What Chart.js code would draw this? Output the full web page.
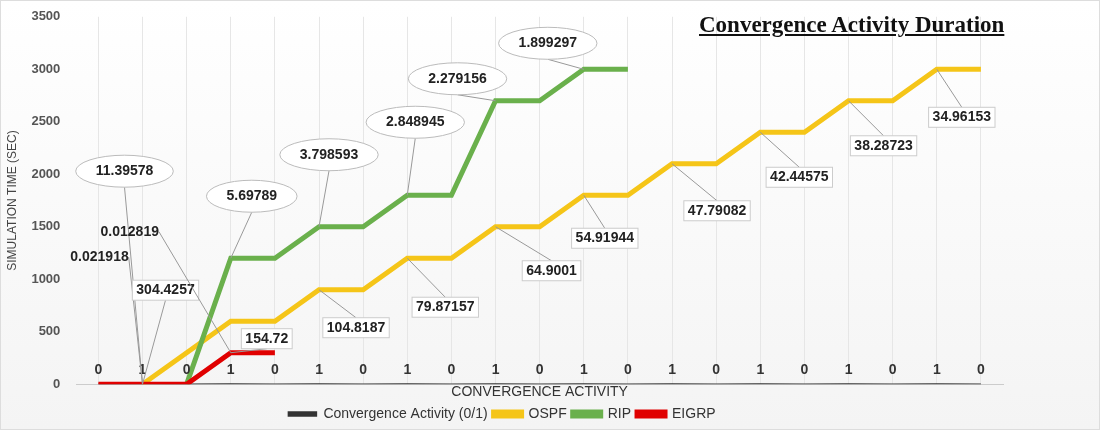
<!DOCTYPE html>
<html><head><meta charset="utf-8">
<script src="https://cdn.jsdelivr.net/npm/chart.js@4/dist/chart.umd.min.js"></script>
<style>html,body{margin:0;background:#fff}#w{position:relative;width:1100px;height:430px;box-sizing:border-box;border:1px solid #ddd;background:linear-gradient(#fff,#f4f4f4)}
#t{position:absolute;left:698px;top:11px;font:bold 23px "Liberation Serif",serif;text-decoration:underline;color:#111}</style>
</head><body><div id="w"><canvas id="c" width="1100" height="430"></canvas><div id="t">Convergence Activity Duration</div></div>
<script>
const categories = ["0","1","0","1","0","1","0","1","0","1","0","1","0","1","0","1","0","1","0","1","0"];
const activity = [0,1,0,1,0,1,0,1,0,1,0,1,0,1,0,1,0,1,0,1,0];
const ospf = [null,0,300,600,600,900,900,1200,1200,1500,1500,1800,1800,2100,2100,2400,2400,2700,2700,3000,3000];
const rip = [null,null,0,1200,1200,1500,1500,1800,1800,2700,2700,3000,3000,null,null,null,null,null,null,null,null];
const eigrp = [0,0,0,300,300,null,null,null,null,null,null,null,null,null,null,null,null,null,null,null,null];
const yTicks = [0,500,1000,1500,2000,2500,3000,3500];
// callouts: [datasetIndex, pointIndex, text, style]
const callouts = [
 [2,1,"11.39578","ellipse"],[2,3,"5.69789","ellipse"],[2,5,"3.798593","ellipse"],[2,7,"2.848945","ellipse"],[2,9,"2.279156","ellipse"],[2,11,"1.899297","ellipse"],
 [3,1,"0.021918","plain"],[1,1,"304.4257","box"],[3,3,"0.012819","plain"],[3,3,"154.72","box"],
 [1,5,"104.8187","box"],[1,7,"79.87157","box"],[1,9,"64.9001","box"],[1,11,"54.91944","box"],[1,13,"47.79082","box"],[1,15,"42.44575","box"],[1,17,"38.28723","box"],[1,19,"34.96153","box"]
];
// layout offsets (pixels) for callouts, same order
const calloutOffsets = [[-18,-213],[21,-62],[10,-72],[8,-73],[-38,-22],[-36,-26],[-43,-127],[23,-94],[-101,-121],[36,-14],
 [37,38],[38,49],[56,44],[21,43],[45,47],[39,45],[35,45],[25,48]];

const labelPlugin = {id:'lbl', afterDatasetsDraw(chart){
  const ctx=chart.ctx, xs=chart.scales.x, ys=chart.scales.y;
  ctx.save();
  ctx.font='bold 14px "Liberation Sans",Arial';ctx.textAlign='center';ctx.textBaseline='middle';ctx.fillStyle='#333';
  activity.forEach((v,i)=>ctx.fillText(String(v),xs.getPixelForValue(i),ys.getPixelForValue(0)-14));
  callouts.forEach((c,k)=>{
    const d=chart.data.datasets[c[0]].data[c[1]];
    const ax=xs.getPixelForValue(c[1]), ay=ys.getPixelForValue(d==null?0:d);
    const cx=ax+calloutOffsets[k][0], cy=ay+calloutOffsets[k][1];
    const w=ctx.measureText(c[2]).width;
    ctx.strokeStyle='#999';ctx.lineWidth=1;ctx.beginPath();
    let sx=cx, sy=cy+(c[3]==='ellipse'?16:10);
    if(c[3]==='plain'){sx=cx+w/2;sy=cy;}
    if(calloutOffsets[k][1]>0) sy=cy-10;
    ctx.moveTo(sx,sy);ctx.lineTo(ax,ay);ctx.stroke();
    if(c[3]==='ellipse'){ctx.fillStyle='#fff';ctx.beginPath();ctx.ellipse(cx,cy,w/2+20,16,0,0,Math.PI*2);ctx.fill();ctx.strokeStyle='#bbb';ctx.stroke();}
    if(c[3]==='box'){ctx.fillStyle='#fff';ctx.fillRect(cx-w/2-4,cy-10,w+8,20);ctx.strokeStyle='#ccc';ctx.strokeRect(cx-w/2-4,cy-10,w+8,20);}
    ctx.fillStyle='#222';ctx.fillText(c[2],cx,cy);
  });
  ctx.restore();
}};

new Chart(document.getElementById('c'),{type:'line',
 data:{labels:categories,datasets:[
  {label:'Convergence Activity (0/1)',data:activity,borderColor:'#333',backgroundColor:'#333',borderWidth:1.5,pointRadius:0,order:4},
  {label:'OSPF',data:ospf,borderColor:'#f5c518',backgroundColor:'#f5c518',borderWidth:5,pointRadius:0,order:3},
  {label:'RIP',data:rip,borderColor:'#6ab04c',backgroundColor:'#6ab04c',borderWidth:5,pointRadius:0,order:2},
  {label:'EIGRP',data:eigrp,borderColor:'#e00000',backgroundColor:'#e00000',borderWidth:5,pointRadius:0,order:1}]},
 options:{responsive:false,animation:false,
  layout:{padding:{left:0,right:98,top:8,bottom:0}},
  plugins:{legend:{position:'bottom',labels:{sort:(a,b)=>a.datasetIndex-b.datasetIndex,padding:6,boxWidth:28,boxHeight:4,font:{family:'"Liberation Sans Narrow",Arial',size:14},color:'#333'}},tooltip:{enabled:false}},
  scales:{
   x:{offset:true,grid:{color:'#e6e6e6',drawTicks:false},border:{color:'#ccc'},ticks:{display:false},
      title:{display:true,text:'CONVERGENCE ACTIVITY',font:{family:'"Liberation Sans Narrow",Arial',size:14},color:'#333',padding:{top:0,bottom:0}}},
   y:{min:0,max:3500,afterBuildTicks:s=>{s.ticks=yTicks.map(v=>({value:v}));},grid:{display:false},border:{display:false},
      ticks:{font:{weight:'bold',size:13},color:'#555',padding:8,callback:v=>String(v)},
      title:{display:true,text:'SIMULATION TIME (SEC)',font:{size:12},color:'#444'}}
  }},
 plugins:[labelPlugin]});
</script></body></html>
